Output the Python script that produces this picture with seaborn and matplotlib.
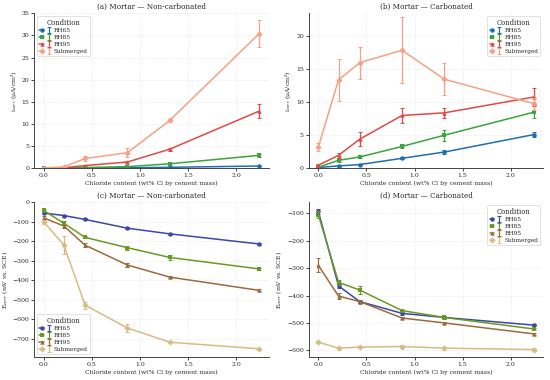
import pandas as pd
import numpy as np
import matplotlib
matplotlib.use("Agg")
import matplotlib.pyplot as plt
import seaborn as sns
from matplotlib.legend_handler import HandlerTuple

chloride = [0.0, 0.21, 0.43, 0.87, 1.31, 2.24]
conditions = ["RH65", "RH85", "RH95", "Submerged"]

# corrosion current density (uA/cm2), mean and error
icorr_nc = {
    "RH65": [0.02, 0.03, 0.05, 0.10, 0.20, 0.50],
    "RH85": [0.02, 0.05, 0.15, 0.35, 1.00, 2.90],
    "RH95": [0.03, 0.10, 0.60, 1.40, 4.30, 12.9],
    "Submerged": [0.05, 0.30, 2.20, 3.50, 10.8, 30.4],
}
icorr_nc_err = {
    "RH65": [0.01, 0.01, 0.02, 0.03, 0.05, 0.10],
    "RH85": [0.01, 0.02, 0.05, 0.10, 0.20, 0.30],
    "RH95": [0.02, 0.05, 0.15, 0.25, 0.30, 1.50],
    "Submerged": [0.05, 0.15, 0.50, 1.00, 0.30, 3.00],
}
icorr_c = {
    "RH65": [0.10, 0.35, 0.55, 1.50, 2.45, 5.10],
    "RH85": [0.15, 1.20, 1.70, 3.30, 5.00, 8.50],
    "RH95": [0.45, 1.95, 4.40, 8.00, 8.40, 10.8],
    "Submerged": [3.20, 13.4, 16.0, 17.9, 13.5, 9.80],
}
icorr_c_err = {
    "RH65": [0.05, 0.10, 0.10, 0.15, 0.30, 0.40],
    "RH85": [0.10, 0.20, 0.20, 0.30, 0.80, 0.90],
    "RH95": [0.20, 0.40, 1.10, 1.10, 0.80, 1.40],
    "Submerged": [0.60, 3.20, 2.40, 5.00, 2.40, 0.90],
}
# corrosion potential (mV vs SCE)
ecorr_nc = {
    "RH65": [-55, -68, -88, -133, -162, -214],
    "RH85": [-42, -108, -180, -233, -283, -342],
    "RH95": [-80, -122, -220, -322, -384, -452],
    "Submerged": [-100, -220, -528, -645, -718, -752],
}
ecorr_nc_err = {
    "RH65": [6, 5, 5, 5, 6, 5],
    "RH85": [8, 10, 5, 10, 12, 5],
    "RH95": [8, 8, 10, 12, 5, 5],
    "Submerged": [10, 45, 18, 22, 5, 5],
}
ecorr_c = {
    "RH65": [-93, -365, -422, -465, -480, -508],
    "RH85": [-105, -352, -380, -455, -480, -522],
    "RH95": [-290, -402, -422, -482, -500, -540],
    "Submerged": [-570, -592, -588, -586, -592, -597],
}
ecorr_c_err = {
    "RH65": [8, 8, 5, 5, 5, 5],
    "RH85": [12, 10, 15, 5, 5, 5],
    "RH95": [25, 12, 5, 5, 5, 5],
    "Submerged": [5, 5, 5, 5, 5, 5],
}

pal_top = ["#1f6fb0", "#3aa53a", "#de4a48", "#f4a284"]
pal_bot = ["#3a48a8", "#6a9a20", "#9c6a3c", "#d5bc82"]
markers = ["o", "s", "^", "D"]

sns.set_theme(style="whitegrid")
plt.rcParams["font.family"] = ["DejaVu Serif"]
plt.rcParams["mathtext.fontset"] = "dejavuserif"
plt.rcParams["grid.linestyle"] = ":"
plt.rcParams["grid.color"] = "#dddddd"
plt.rcParams["grid.linewidth"] = 0.5


def panel(ax, means, errs, palette, title, ylabel, loc):
    df = pd.DataFrame([(c, x, m) for c in conditions
                       for x, m in zip(chloride, means[c])],
                      columns=["Condition", "x", "y"])
    sns.lineplot(data=df, x="x", y="y", hue="Condition", style="Condition",
                 palette=palette, markers=markers, dashes=False,
                 markersize=3.2, markeredgewidth=0, linewidth=1.1,
                 ax=ax, legend=False)
    handles = []
    for c, col, mk in zip(conditions, palette, markers):
        eb = ax.errorbar(chloride, means[c], yerr=errs[c], fmt="none",
                         ecolor=col, elinewidth=0.9, capsize=1.5, capthick=0.7)
        ln = plt.Line2D([], [], color=col, marker=mk, markersize=3.2,
                        markeredgewidth=0, linewidth=1.1)
        handles.append((ln, eb))
    ax.set_title(title, fontsize=5.2, pad=3)
    ax.set_xlabel("Chloride content (wt% Cl by cement mass)", fontsize=4.4, labelpad=2)
    ax.set_ylabel(ylabel, fontsize=4.4, labelpad=2)
    ax.tick_params(labelsize=4.4, length=2, width=0.6, pad=1.5, left=True, bottom=True)
    ax.set_xticks([0, 0.5, 1.0, 1.5, 2.0])
    sns.despine(ax=ax)
    for s in ["left", "bottom"]:
        ax.spines[s].set_color("#444444")
        ax.spines[s].set_linewidth(0.7)
    leg = ax.legend(handles, conditions, title="Condition", loc=loc,
                    fontsize=4.2, title_fontsize=4.9, frameon=True,
                    handler_map={tuple: HandlerTuple(ndivide=None)},
                    handlelength=2.0, borderpad=0.4, labelspacing=0.3,
                    handletextpad=0.5)
    leg.get_frame().set_linewidth(0.5)


fig, axes = plt.subplots(2, 2, figsize=(5.5, 3.8), dpi=100)
panel(axes[0, 0], icorr_nc, icorr_nc_err, pal_top,
      "(a) Mortar — Non-carbonated", r"i$_{corr}$ (μA/cm²)", "upper left")
axes[0, 0].set_ylim(0, 35)
axes[0, 0].set_yticks(range(0, 36, 5))
panel(axes[0, 1], icorr_c, icorr_c_err, pal_top,
      "(b) Mortar — Carbonated", r"i$_{corr}$ (μA/cm²)", "upper right")
axes[0, 1].set_ylim(0, 23.5)
panel(axes[1, 0], ecorr_nc, ecorr_nc_err, pal_bot,
      "(c) Mortar — Non-carbonated", r"E$_{corr}$ (mV vs. SCE)", "lower left")
axes[1, 0].set_ylim(-795, 0)
panel(axes[1, 1], ecorr_c, ecorr_c_err, pal_bot,
      "(d) Mortar — Carbonated", r"E$_{corr}$ (mV vs. SCE)", "upper right")
axes[1, 1].set_ylim(-625, -60)

for ax in axes.flat:
    ax.set_xlim(-0.1, 2.34)

fig.subplots_adjust(left=0.062, right=0.988, top=0.965, bottom=0.06,
                    hspace=0.22, wspace=0.17)
fig.savefig("out.png", dpi=100)
